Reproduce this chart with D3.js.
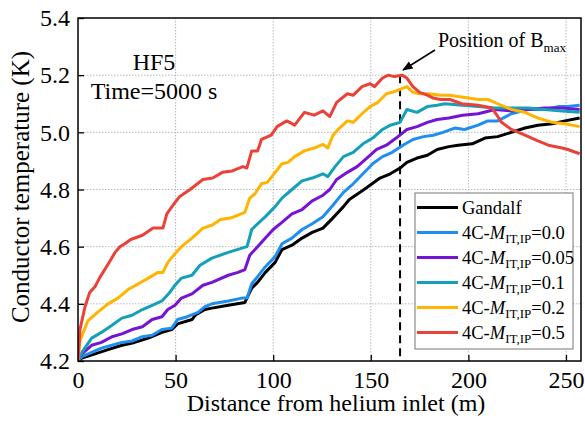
<!DOCTYPE html>
<html>
<head>
<meta charset="utf-8">
<script src="https://cdn.jsdelivr.net/npm/d3@7"></script>
<style>
body { margin: 0; background: #fff; }
</style>
</head>
<body>
<svg id="chart" width="585" height="421"></svg>
<script>
var xTicks = [0, 50, 100, 150, 200, 250]
var yTicks = [4.2, 4.4, 4.6, 4.8, 5.0, 5.2, 5.4]
var bmaxPos = 165

var gandalf = [[0,4.2],[2,4.21],[8.7,4.225],[15.4,4.24],[22.5,4.255],[29,4.265],[36,4.28],[43,4.3],[48,4.31],[51,4.33],[58.4,4.345],[60,4.36],[65,4.38],[68.6,4.385],[77,4.395],[85.5,4.405],[89,4.455],[92,4.475],[96,4.51],[101,4.545],[104.5,4.59],[109.6,4.605],[114.8,4.63],[120,4.65],[125.5,4.665],[130.5,4.7],[136,4.74],[139,4.765],[144.5,4.79],[149.6,4.815],[154.7,4.84],[160,4.855],[165,4.875],[168.5,4.895],[173.7,4.91],[179,4.92],[184,4.94],[190,4.95],[194.7,4.955],[202,4.96],[208.5,4.98],[215,4.985],[222,5.0],[229,5.015],[235.6,5.025],[243,5.03],[249.5,5.04],[257,5.05]]

var m00 = [[0,4.2],[2,4.215],[7,4.23],[12,4.245],[17.4,4.255],[22.5,4.265],[27.7,4.27],[33,4.285],[38,4.29],[43,4.31],[48,4.315],[51,4.345],[56,4.355],[61.5,4.37],[65,4.39],[68.6,4.4],[77,4.41],[84,4.42],[86.6,4.42],[89,4.47],[92,4.495],[96,4.53],[101,4.565],[104.5,4.61],[109.6,4.63],[114.8,4.66],[120,4.68],[125.5,4.705],[130.6,4.745],[136,4.79],[141,4.82],[146,4.855],[151,4.89],[156,4.915],[161,4.93],[166.5,4.955],[171.6,4.975],[177,4.985],[182,4.99],[187,5.0],[193,5.015],[198,5.01],[205,5.025],[210,5.04],[215,5.04],[222,5.065],[230.5,5.08],[239,5.08],[246,5.09],[251,5.09],[257,5.095]]

var m005 = [[0,4.2],[2,4.225],[7,4.255],[12,4.265],[17.4,4.285],[22.5,4.295],[27.7,4.31],[33,4.32],[38,4.345],[43,4.355],[46,4.38],[49.7,4.395],[53,4.42],[58.4,4.435],[64,4.465],[68.6,4.475],[77,4.5],[82,4.51],[85.5,4.52],[88,4.57],[92,4.6],[96,4.63],[100,4.66],[104.5,4.685],[109.6,4.715],[114.8,4.73],[120,4.76],[125.5,4.78],[129,4.8],[132.5,4.835],[138,4.86],[143,4.88],[148,4.91],[153,4.94],[158,4.955],[163,4.98],[168.5,5.01],[173.7,5.02],[179,5.035],[184,5.045],[190,5.05],[197,5.06],[205,5.065],[213.6,5.08],[222,5.075],[230.5,5.08],[239,5.085],[248,5.085],[257,5.08]]

var m01 = [[0,4.2],[2,4.23],[7,4.28],[12,4.3],[17.4,4.325],[22.5,4.35],[27.7,4.36],[33,4.38],[38,4.395],[43,4.41],[47,4.44],[49.7,4.465],[53,4.49],[58.4,4.5],[62.5,4.535],[68.6,4.56],[77,4.58],[84,4.595],[86.6,4.6],[89,4.66],[92,4.68],[96,4.705],[101,4.74],[104.5,4.77],[109.6,4.8],[114.8,4.83],[120,4.84],[125.5,4.855],[128,4.845],[131.7,4.88],[136,4.915],[141,4.93],[146,4.96],[151,4.98],[156,5.01],[160,5.025],[165,5.035],[168.5,5.08],[173.7,5.07],[179,5.09],[184,5.095],[188,5.1],[197,5.095],[205,5.09],[213.6,5.085],[222,5.085],[230.5,5.085],[239,5.08],[248,5.075],[257,5.07]]

var m02 = [[0,4.2],[1,4.27],[5,4.34],[10,4.37],[15.4,4.4],[20.5,4.42],[25.6,4.45],[31,4.47],[36,4.49],[41,4.51],[43.5,4.51],[46,4.545],[49.7,4.575],[53,4.6],[58.4,4.63],[64,4.665],[68.6,4.675],[73,4.695],[78,4.7],[82,4.71],[85.5,4.72],[88,4.77],[90.7,4.785],[94,4.82],[97,4.825],[101,4.86],[104.5,4.89],[107.6,4.895],[111,4.915],[116,4.935],[121,4.945],[125.5,4.958],[128,4.945],[130.6,4.99],[134,5.015],[138,5.04],[141,5.035],[145.5,5.065],[149.6,5.09],[153.7,5.105],[158,5.135],[161,5.14],[165,5.15],[168.5,5.16],[171.6,5.14],[175,5.135],[180,5.135],[185.5,5.13],[190.5,5.13],[194.7,5.125],[200,5.12],[205,5.115],[210,5.115],[215,5.1],[222,5.08],[229,5.07],[235.6,5.05],[243,5.035],[249.5,5.03],[257,5.02]]

var m05 = [[0,4.2],[1,4.31],[3.6,4.39],[6,4.44],[8.7,4.46],[11,4.49],[16.4,4.55],[19,4.58],[21.5,4.6],[24,4.61],[27,4.625],[33,4.64],[38.5,4.665],[43.5,4.665],[45.5,4.715],[48.7,4.745],[52,4.775],[57.4,4.8],[64,4.835],[69,4.84],[74,4.86],[79,4.865],[84.5,4.88],[86.5,4.875],[89,4.935],[92,4.935],[94,4.975],[99,4.99],[102,5.02],[107,5.04],[111,5.025],[116,5.07],[121,5.06],[125.5,5.075],[129,5.055],[132.5,5.105],[138,5.135],[141,5.13],[145.5,5.16],[149.6,5.17],[152,5.16],[156,5.19],[159,5.2],[162,5.195],[166,5.2],[168.5,5.19],[171.6,5.16],[175,5.14],[179,5.13],[182,5.12],[185.5,5.115],[190.5,5.115],[196.7,5.1],[205,5.095],[212,5.085],[214.6,5.06],[217,5.035],[222,5.01],[229,4.99],[235.6,4.97],[241,4.955],[248,4.945],[251,4.94],[257,4.925]]

var seriesNames = ["Gandalf", "0.0", "0.05", "0.1", "0.2", "0.5"]
var seriesColors = ["#000000", "#1e8ff0", "#7514d4", "#14a0b8", "#ffb400", "#ea4238"]
var seriesData = [gandalf, m00, m005, m01, m02, m05]

var fontName = "'Liberation Serif'"
var svg = d3.select("#chart")
var pL = 78, pR = 581, pT = 18, pB = 361

var x_scale = d3.scaleLinear().domain([0, 257.7]).range([pL, pR])
var y_scale = d3.scaleLinear().domain([4.2, 5.4]).range([pB, pT])

svg.append("clipPath").attr("id", "clip")
	.append("rect").attr("x", pL).attr("y", pT)
	.attr("width", pR - pL).attr("height", pB - pT)

// grid
svg.append("g").selectAll("line").data(xTicks.slice(1))
	.enter().append("line")
	.attr("x1", d => x_scale(d)).attr("x2", d => x_scale(d))
	.attr("y1", pT).attr("y2", pB)
	.attr("stroke", "#b8b8b8").attr("stroke-width", 1).attr("stroke-dasharray", "1.5,1.5")
svg.append("g").selectAll("line").data(yTicks.slice(1, -1))
	.enter().append("line")
	.attr("x1", pL).attr("x2", pR)
	.attr("y1", d => y_scale(d)).attr("y2", d => y_scale(d))
	.attr("stroke", "#b8b8b8").attr("stroke-width", 1).attr("stroke-dasharray", "1.5,1.5")

// axes, ticks pointing inward
var xAxis = svg.append("g").attr("transform", "translate(0," + pB + ")")
	.call(d3.axisBottom(x_scale).tickValues(xTicks).tickSizeInner(-6).tickSizeOuter(0).tickPadding(8).tickFormat(d3.format("d")))
var yAxis = svg.append("g").attr("transform", "translate(" + pL + ",0)")
	.call(d3.axisLeft(y_scale).tickValues(yTicks).tickSizeInner(-6).tickSizeOuter(0).tickPadding(8).tickFormat(d3.format(".1f")))
xAxis.attr("font-family", null).attr("font-size", null)
yAxis.attr("font-family", null).attr("font-size", null)
svg.selectAll(".domain").remove()
svg.selectAll(".tick line").attr("stroke", "#000").attr("stroke-width", 1.3)
svg.selectAll(".tick text").style("font-family", fontName).style("font-size", "24px").attr("fill", "#000")
xAxis.selectAll(".tick text").attr("dy", "0.8em")

// B_max marker
svg.append("line")
	.attr("x1", x_scale(bmaxPos)).attr("x2", x_scale(bmaxPos))
	.attr("y1", y_scale(5.2)).attr("y2", pB)
	.attr("stroke", "#000").attr("stroke-width", 2).attr("stroke-dasharray", "8,5")

var line = d3.line()
	.x(function(d) { return x_scale(d[0]); })
	.y(function(d) { return y_scale(d[1]); })

svg.append("g").attr("clip-path", "url(#clip)")
	.selectAll("path").data(seriesData)
	.enter().append("path")
	.attr("d", line)
	.attr("fill", "none")
	.attr("stroke", (d, i) => seriesColors[i])
	.attr("stroke-width", 3)
	.attr("stroke-linejoin", "round")

// frame
svg.append("rect").attr("x", pL).attr("y", pT)
	.attr("width", pR - pL).attr("height", pB - pT)
	.attr("fill", "none").attr("stroke", "#000").attr("stroke-width", 1.5)

// annotation
svg.append("defs").append("marker").attr("id", "arrow")
	.attr("viewBox", "0 0 10 10").attr("refX", 9).attr("refY", 5)
	.attr("markerWidth", 7).attr("markerHeight", 7).attr("orient", "auto")
	.append("path").attr("d", "M0,1L10,5L0,9Z").attr("fill", "#000")
svg.append("line")
	.attr("x1", 435).attr("y1", 50).attr("x2", x_scale(bmaxPos) + 3).attr("y2", 70)
	.attr("stroke", "#000").attr("stroke-width", 1.5).attr("marker-end", "url(#arrow)")
var ann = svg.append("text").attr("x", 438).attr("y", 47).style("font-family", fontName).style("font-size", "20px")
ann.append("tspan").text("Position of B")
ann.append("tspan").style("font-size", "13px").attr("dy", 5).text("max")

svg.append("text").attr("x", 154).attr("y", 70).attr("text-anchor", "middle")
	.style("font-family", fontName).style("font-size", "24px").text("HF5")
svg.append("text").attr("x", 154).attr("y", 99).attr("text-anchor", "middle")
	.style("font-family", fontName).style("font-size", "24px").text("Time=5000 s")

// axis labels
svg.append("text").attr("x", 336).attr("y", 411).attr("text-anchor", "middle")
	.style("font-family", fontName).style("font-size", "24px").text("Distance from helium inlet (m)")
svg.append("text").attr("transform", "translate(29,187) rotate(-90)").attr("text-anchor", "middle")
	.style("font-family", fontName).style("font-size", "25px").text("Conductor temperature (K)")

// legend
var legend = svg.append("g")
legend.append("rect").attr("x", 415).attr("y", 193).attr("width", 158).attr("height", 156)
	.attr("fill", "#fff").attr("stroke", "#777").attr("stroke-width", 1)
seriesNames.forEach(function(name, i) {
	var ly = 207.5 + i * 25
	legend.append("line").attr("x1", 417).attr("x2", 458).attr("y1", ly).attr("y2", ly)
		.attr("stroke", seriesColors[i]).attr("stroke-width", 3)
	var t = legend.append("text").attr("x", 462).attr("y", ly + 6)
		.style("font-family", fontName).style("font-size", "18.5px")
	if (i == 0) {
		t.text(name)
	} else {
		t.append("tspan").text("4C-")
		t.append("tspan").style("font-style", "italic").text("M")
		t.append("tspan").style("font-size", "13px").attr("dy", 4).text("IT,IP")
		t.append("tspan").attr("dy", -4).text("=" + name)
	}
})
</script>
</body>
</html>
